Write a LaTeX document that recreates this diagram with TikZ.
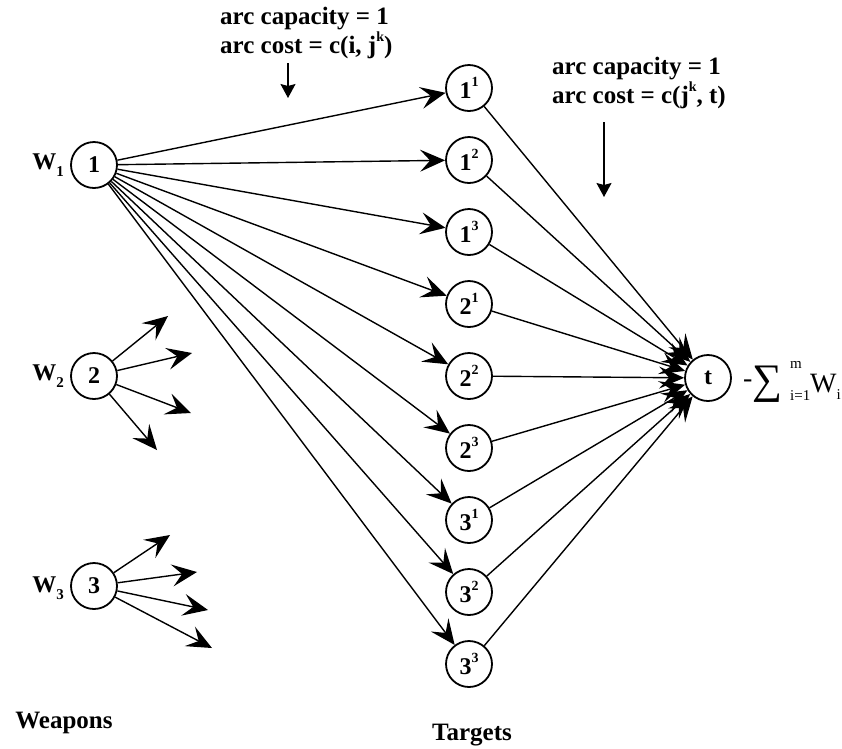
\documentclass[tikz,border=0pt]{standalone}
\usepackage{fontspec}
\setmainfont{Liberation Serif}
\usetikzlibrary{arrows.meta}
\newcommand\supx[1]{\raisebox{0.5em}{\fontsize{14}{14}\selectfont #1}}
\newcommand\subx[1]{\raisebox{-0.3em}{\fontsize{15}{15}\selectfont #1}}
\begin{document}
\begin{tikzpicture}[x=1pt,y=-1pt,
  vert/.style={circle,draw,line width=1.8pt,minimum size=46pt,inner sep=0pt,
    font=\fontsize{24}{24}\selectfont\bfseries},
  conn/.style={line width=1.4pt,-{Stealth[length=25pt,width=22pt,inset=10pt]}},
  pointer/.style={line width=1.4pt,-{Stealth[length=14pt,width=15pt,inset=2pt]}},
  lbl/.style={font=\fontsize{25}{29}\selectfont\bfseries,inner sep=0pt,align=left},
  wlbl/.style={font=\fontsize{24}{24}\selectfont\bfseries,inner sep=0pt},
  frm/.style={inner sep=0pt}
]
\useasboundingbox (0,0) rectangle (842,748);

% weapon nodes
\node[vert] (n1) at (94,165) {1};
\node[vert] (n2) at (94,376) {2};
\node[vert] (n3) at (94,586) {3};
\node[wlbl,anchor=east] (w1) at (64,165) {W\subx{1}};
\node[wlbl,anchor=east] (w2) at (64,376) {W\subx{2}};
\node[wlbl,anchor=east] (w3) at (64,588) {W\subx{3}};

% target nodes
\node[vert] (t11) at (469,88) {1\supx{1}};
\node[vert] (t12) at (469,160) {1\supx{2}};
\node[vert] (t13) at (469,232) {1\supx{3}};
\node[vert] (t21) at (469,304) {2\supx{1}};
\node[vert] (t22) at (469,376) {2\supx{2}};
\node[vert] (t23) at (469,448) {2\supx{3}};
\node[vert] (t31) at (469,520) {3\supx{1}};
\node[vert] (t32) at (469,592) {3\supx{2}};
\node[vert] (t33) at (469,664) {3\supx{3}};

% sink
\node[vert] (t) at (708,378) {t};

% arcs from weapon 1 and into the sink
\foreach \n in {t11,t12,t13,t21,t22,t23,t31,t32,t33}{
  \draw[conn] (n1) -- (\n);
  \draw[conn] (\n) -- (t);
}

% stub arcs from weapons 2 and 3
\coordinate (a21) at (168,316);
\coordinate (a22) at (192,353);
\coordinate (a23) at (191,413);
\coordinate (a24) at (157,450);
\coordinate (a31) at (170,535);
\coordinate (a32) at (197,572);
\coordinate (a33) at (208,610);
\coordinate (a34) at (212,648);
\foreach \c in {a21,a22,a23,a24}{\draw[conn] (n2) -- (\c);}
\foreach \c in {a31,a32,a33,a34}{\draw[conn] (n3) -- (\c);}

% labels
\node[lbl,anchor=west] (capA) at (220,33) {arc capacity = 1\\arc cost = c(i, j\supx{k})};
\node[lbl,anchor=west] (capB) at (552,83) {arc capacity = 1\\arc cost = c(j\supx{k}, t)};
\coordinate (pA1) at (288,63);
\coordinate (pA2) at (288,98);
\coordinate (pB1) at (604,122);
\coordinate (pB2) at (604,197);
\draw[pointer] (pA1) -- (pA2);
\draw[pointer] (pB1) -- (pB2);

\node[lbl,anchor=center] (weap) at (64,723) {Weapons};
\node[lbl,anchor=center] (targ) at (472,735) {Targets};

% formula
\node[frm,anchor=west,font=\fontsize{28}{28}\selectfont] (fm) at (743,384) {-};
\node[frm,anchor=west,font=\fontsize{42}{42}\selectfont] (fs) at (752,384) {∑};
\node[frm,anchor=west,font=\fontsize{15}{15}\selectfont] (fup) at (790,365) {m};
\node[frm,anchor=west,font=\fontsize{15}{15}\selectfont] (flo) at (790,396) {i=1};
\node[frm,anchor=west,font=\fontsize{28}{28}\selectfont] (fw) at (810,387) {W\raisebox{-0.25em}{\fontsize{15}{15}\selectfont i}};
\end{tikzpicture}
\end{document}
